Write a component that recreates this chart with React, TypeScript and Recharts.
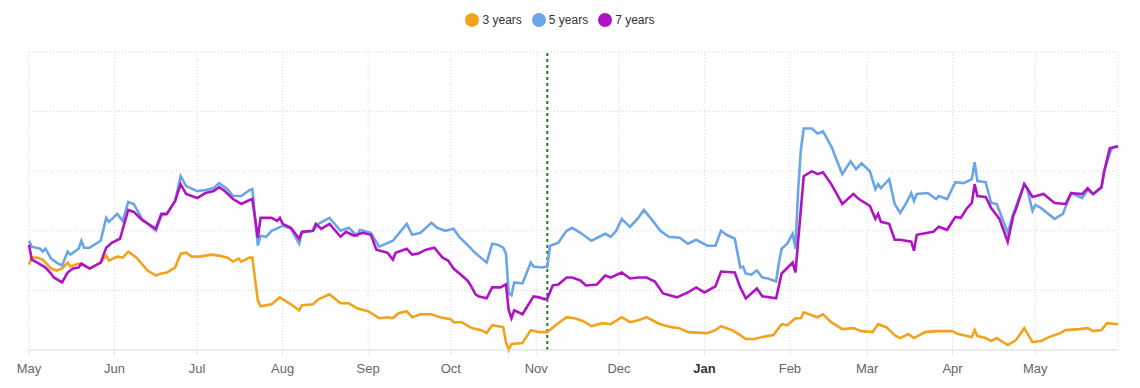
import React from "react";
import {
  LineChart,
  Line,
  XAxis,
  YAxis,
  CartesianGrid,
  Legend,
  ReferenceLine,
} from "recharts";

// x = days since 1 May 2024, y = spread level (chart units)
const monthTicks = [0, 31, 61, 92, 123, 153, 184, 214, 245, 276, 304, 335, 365];
const monthLabels = ["May", "Jun", "Jul", "Aug", "Sep", "Oct", "Nov", "Dec", "Jan", "Feb", "Mar", "Apr", "May"];
const yTicks = [0, 60, 120, 180, 240, 300];
const markerDay = 188;

const threeYearDays = [
  0, 1, 3, 5, 8, 10, 12, 14, 15, 18, 20, 22, 26, 28, 29, 32, 34, 36, 39, 43, 46, 48, 50, 53, 55, 57, 59, 62, 66, 69,
  72, 74, 76, 77, 80, 81, 83, 84, 88, 91, 95, 98, 99, 103, 105, 109, 113, 116, 119, 123, 127, 130, 132, 134, 137, 139,
  142, 146, 149, 153, 154, 157, 160, 161, 164, 166, 168, 172, 173, 174, 175, 179, 182, 185, 188, 191, 195, 198, 201,
  204, 208, 211, 215, 218, 221, 224, 229, 233, 236, 239, 246, 249, 251, 255, 258, 260, 263, 266, 270, 273, 275, 278,
  280, 281, 286, 288, 291, 295, 299, 302, 306, 308, 311, 314, 316, 319, 321, 325, 329, 335, 337, 342, 343, 344, 347,
  349, 351, 355, 358, 361, 364, 367, 370, 374, 376, 381, 384, 386, 389, 391, 395,
];
const threeYearValues = [
  86, 93, 93, 91, 82, 80, 82, 88, 84, 87, 85, 82, 88, 95, 90, 94, 93, 99, 93, 80, 75, 77, 78, 83, 97, 98, 94, 94, 96, 95,
  93, 89, 92, 89, 93, 93, 50, 44, 46, 53, 46, 40, 45, 46, 51, 56, 47, 47, 42, 39, 32, 33, 32, 37, 39, 33,
  36, 36, 33, 31, 28, 28, 23, 22, 20, 17, 25, 23, 8, 0, 6, 7, 20, 18, 18, 25, 33, 32, 29,
  24, 27, 26, 33, 28, 30, 33, 26, 23, 22, 18, 17, 20, 24, 20, 15, 11, 11, 13, 15, 26, 25, 32,
  32, 38, 33, 36, 28, 21, 22, 19, 18, 26, 23, 15, 12, 16, 12, 18, 19, 19, 16, 13, 20, 14, 12,
  9, 12, 5, 10, 22, 8, 9, 13, 17, 20, 21, 22, 19, 20, 27, 26,
];

const fiveYearDays = [
  0, 1, 4, 5, 6, 8, 10, 12, 14, 15, 18, 19, 20, 22, 26, 28, 29, 32, 34, 36, 38, 41, 46, 48, 50, 53, 55, 57, 61, 64, 67,
  69, 72, 74, 77, 80, 81, 83, 84, 86, 88, 92, 95, 98, 99, 103, 105, 109, 113, 116, 119, 120, 124, 127, 132, 137, 139,
  142, 146, 148, 151, 154, 156, 160, 161, 163, 166, 168, 170, 172, 173, 174, 175, 176, 179, 182, 183, 186, 188, 189,
  192, 195, 197, 200, 204, 209, 211, 213, 215, 218, 221, 223, 226, 229, 232, 236, 239, 242, 246, 249, 251, 253, 256,
  258, 259, 260, 262, 264, 266, 268, 271, 272, 273, 275, 277, 278, 279, 280, 281, 284, 286, 288, 291, 295, 298, 300,
  302, 305, 307, 308, 309, 312, 314, 316, 318, 320, 321, 322, 326, 329, 330, 333, 336, 339, 342, 343, 344, 347, 349,
  351, 355, 357, 361, 362, 364, 365, 367, 372, 375, 378, 382, 384, 386, 389, 390, 392, 393, 395,
];
const fiveYearValues = [
  110, 104, 102, 99, 102, 92, 88, 85, 99, 96, 102, 110, 103, 103, 110, 133, 129, 137, 130, 149, 147, 132, 120, 135, 137, 150, 175, 165, 160, 161, 163,
  168, 162, 155, 155, 161, 162, 105, 115, 114, 120, 125, 122, 107, 118, 120, 127, 133, 120, 123, 115, 121, 118, 104, 110, 127, 116,
  118, 128, 123, 120, 122, 114, 103, 100, 95, 88, 107, 106, 103, 97, 57, 55, 68, 67, 88, 84, 83, 84, 105,
  108, 120, 123, 118, 110, 117, 114, 120, 132, 124, 133, 141, 131, 120, 114, 113, 107, 111, 105, 105, 120, 116, 112,
  83, 84, 77, 76, 80, 73, 72, 69, 88, 102, 107, 117, 102, 162, 202, 223, 223, 218, 220, 205, 177, 190, 182,
  188, 180, 162, 167, 163, 172, 147, 138, 147, 158, 150, 157, 158, 152, 155, 152, 169, 168, 172, 189, 170, 169, 148,
  147, 118, 137, 167, 163, 140, 146, 143, 132, 137, 158, 153, 161, 157, 163, 180, 198, 204, 205,
];

const sevenYearDays = [
  0, 1, 3, 6, 8, 9, 12, 14, 16, 18, 19, 22, 26, 28, 30, 33, 36, 38, 41, 46, 48, 50, 53, 55, 57, 61, 64, 67, 69, 71, 74,
  77, 80, 81, 83, 84, 88, 90, 91, 92, 95, 98, 99, 103, 104, 106, 109, 113, 115, 118, 121, 124, 126, 130, 132, 133, 137,
  139, 141, 144, 147, 150, 152, 154, 157, 159, 160, 162, 163, 166, 168, 171, 173, 174, 175, 176, 179, 181, 183, 185,
  187, 188, 190, 192, 195, 197, 200, 202, 206, 209, 211, 215, 218, 221, 224, 227, 230, 235, 239, 242, 245, 249, 251,
  256, 258, 260, 264, 266, 271, 273, 277, 278, 281, 284, 286, 288, 291, 295, 299, 301, 305, 307, 308, 309, 312, 314,
  316, 320, 321, 322, 326, 328, 330, 333, 336, 338, 340, 342, 343, 344, 347, 349, 352, 355, 357, 358, 361, 362, 364,
  368, 372, 376, 378, 382, 384, 386, 389, 390, 392, 395,
];
const sevenYearValues = [
  106, 91, 88, 83, 77, 73, 68, 78, 82, 83, 87, 82, 88, 103, 108, 112, 141, 139, 131, 122, 137, 137, 150, 167, 157, 153, 158, 160, 164, 160, 152,
  147, 151, 152, 113, 133, 133, 130, 133, 127, 123, 112, 119, 120, 127, 122, 127, 114, 119, 115, 118, 116, 101, 98, 91, 98, 102,
  96, 97, 101, 103, 93, 90, 82, 75, 70, 66, 56, 54, 52, 63, 63, 66, 40, 32, 40, 36, 45, 54, 53,
  51, 52, 65, 66, 73, 73, 70, 65, 66, 75, 73, 78, 72, 73, 73, 69, 57, 53, 58, 63, 58, 64, 79,
  78, 63, 52, 62, 54, 52, 77, 88, 78, 175, 180, 177, 179, 167, 147, 157, 152, 145, 132, 137, 129, 127, 111,
  111, 109, 100, 116, 118, 119, 124, 121, 134, 133, 142, 148, 167, 155, 154, 143, 132, 109, 135, 142, 167, 163, 154,
  157, 148, 147, 158, 157, 163, 157, 164, 180, 203, 205,
];

const zip = (days: number[], values: number[]) => days.map((day, i) => ({ day, value: values[i] }));

const series = [
  { name: "3 years", color: "#f2a31e", data: zip(threeYearDays, threeYearValues) },
  { name: "5 years", color: "#6aa6e6", data: zip(fiveYearDays, fiveYearValues) },
  { name: "7 years", color: "#b014c2", data: zip(sevenYearDays, sevenYearValues) },
];

const FONT = "'Liberation Sans', Arial, Helvetica, sans-serif";

const MonthTick = (props: any) => {
  const { x, y, index } = props;
  const label = monthLabels[index];
  const isYear = label === "Jan";
  return (
    <text
      x={x}
      y={y}
      dy={16}
      textAnchor="middle"
      fontFamily={FONT}
      fontSize={13}
      fontWeight={isYear ? 700 : 400}
      fill={isYear ? "#333" : "#666"}
    >
      {label}
    </text>
  );
};

const renderLegend = (props: any) => {
  const { payload } = props;
  return (
    <div
      style={{
        display: "flex",
        justifyContent: "center",
        alignItems: "center",
        gap: 10,
        height: 22,
        paddingTop: 1,
        paddingBottom: 21,
        paddingRight: 27,
        fontFamily: FONT,
        fontSize: 12,
        color: "#333",
      }}
    >
      {payload.map((entry: any) => (
        <span key={entry.value} style={{ display: "flex", alignItems: "center" }}>
          <svg width={14} height={14} style={{ marginRight: 3 }}>
            <circle cx={7} cy={7} r={7} fill={entry.color} />
          </svg>
          {entry.value}
        </span>
      ))}
    </div>
  );
};

export default function App() {
  return (
    <div style={{ position: "absolute", left: 0, top: 0, background: "#fff" }}>
      <LineChart width={1140} height={388} margin={{ top: 8, right: 22, bottom: 8, left: 29 }}>
        <CartesianGrid stroke="#d9d9d9" strokeDasharray="1 2" />
        <XAxis
          dataKey="day"
          type="number"
          domain={[0, 395]}
          ticks={monthTicks}
          tick={<MonthTick />}
          height={30}
          stroke="#e3e3e3"
          tickLine={{ stroke: "#e3e3e3" }}
          tickSize={5}
          allowDuplicatedCategory={false}
        />
        <YAxis hide domain={[0, 300]} ticks={yTicks} />
        <Legend verticalAlign="top" align="center" content={renderLegend} />
        <ReferenceLine x={markerDay} stroke="#1d8020" strokeWidth={2} strokeDasharray="3 3" />
        {series.map((s) => (
          <Line
            key={s.name}
            data={s.data}
            dataKey="value"
            name={s.name}
            type="linear"
            stroke={s.color}
            strokeWidth={2.6}
            dot={false}
            isAnimationActive={false}
          />
        ))}
      </LineChart>
    </div>
  );
}
